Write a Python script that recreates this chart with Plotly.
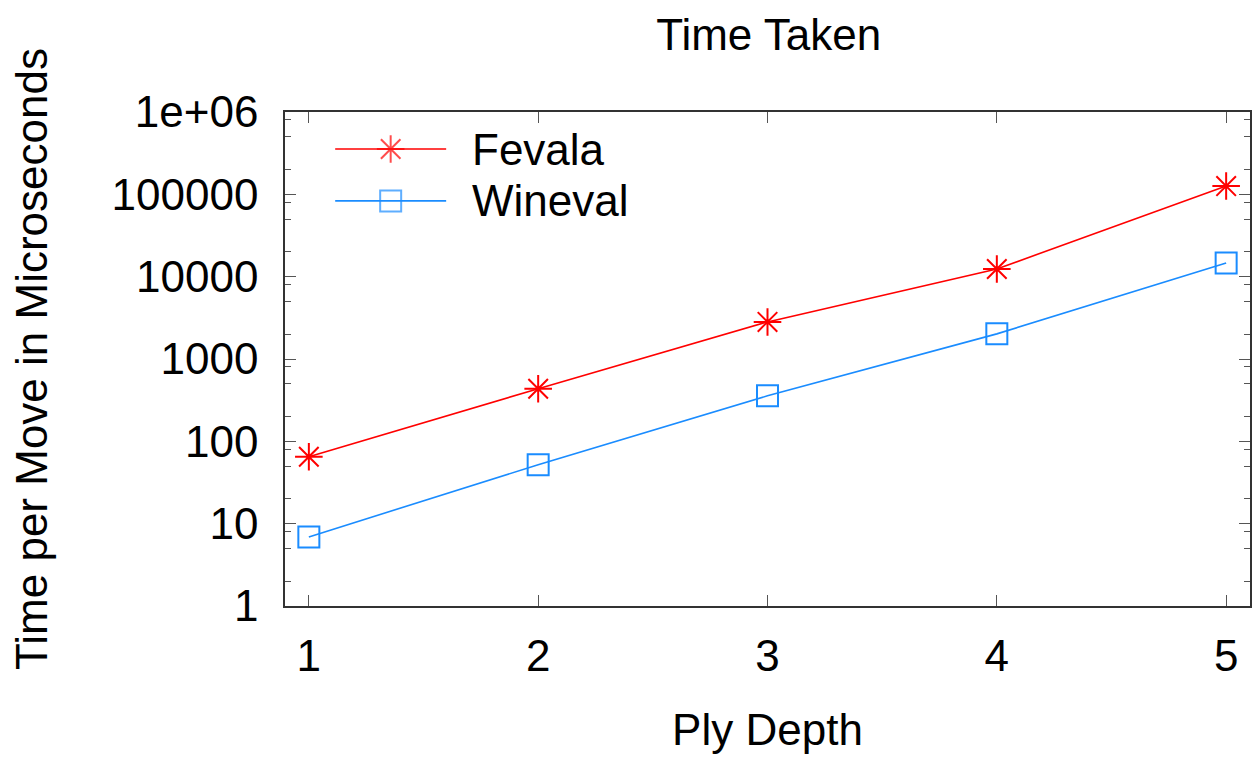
import plotly.graph_objects as go

# Search depth (plies) and average time per move, in microseconds
ply_depth = [1, 2, 3, 4, 5]
fevala_us = [65, 435, 2820, 12400, 126000]
wineval_us = [6.9, 52, 357, 2020, 14700]

y_tick_vals = [1, 10, 100, 1000, 10000, 100000, 1000000]
y_tick_text = ["1", "10", "100", "1000", "10000", "100000", "1e+06"]
y_minor_vals = [m * 10 ** d for d in range(6) for m in (2, 5, 8)]

RED = "#ff0000"
BLUE = "#1a8cff"
FONT = "Liberation Sans, Arial, Helvetica, sans-serif"
FS = 44

fig = go.Figure()

fig.add_trace(go.Scatter(
    x=ply_depth, y=fevala_us, mode="lines+markers", name="Fevala",
    line=dict(color=RED, width=1.6),
    marker=dict(symbol="asterisk-open", size=23, color=RED,
                line=dict(color=RED, width=2)),
    showlegend=False,
))
fig.add_trace(go.Scatter(
    x=ply_depth, y=wineval_us, mode="lines+markers", name="Wineval",
    line=dict(color=BLUE, width=1.6),
    marker=dict(symbol="square-open", size=21, color=BLUE,
                line=dict(color=BLUE, width=2)),
    showlegend=False,
))

# Key samples drawn on an overlay axis spanning the plot area (0..1 both ways)
key_x = [0.052, 0.1095, 0.167]
for label, color, symbol, size, yk in [
    ("Fevala", RED, "asterisk-open", 23, 0.925),
    ("Wineval", BLUE, "square-open", 21, 0.82),
]:
    fig.add_trace(go.Scatter(
        x=key_x, y=[yk] * 3, xaxis="x2", yaxis="y2", mode="lines+markers",
        line=dict(color=color, width=1.6),
        marker=dict(symbol=symbol, size=[0, size, 0], color=color,
                    line=dict(color=color, width=2)),
        showlegend=False, hoverinfo="skip",
    ))
    fig.add_annotation(
        x=0.192, y=yk, xref="x2", yref="y2", text=label, showarrow=False,
        xanchor="left", yanchor="middle",
        font=dict(family=FONT, size=FS, color="black"),
    )

axis_common = dict(
    showline=True, linecolor="#333333", linewidth=1.5, mirror="allticks",
    ticks="inside", ticklen=11, tickwidth=1.3, tickcolor="#555555",
    showgrid=False, zeroline=False,
    tickfont=dict(family=FONT, size=FS, color="black"),
    title_font=dict(family=FONT, size=FS, color="black"),
)

fig.update_layout(
    width=1258, height=758,
    margin=dict(l=285, r=6, t=112, b=152),
    paper_bgcolor="white", plot_bgcolor="white",
    title=dict(text="Time Taken", x=0.611, xanchor="center", y=0.955,
               yanchor="middle", font=dict(family=FONT, size=FS, color="black")),
    xaxis=dict(
        range=[0.896, 5.104], tickvals=ply_depth,
        ticktext=[str(v) for v in ply_depth],
        title=dict(text="Ply Depth", standoff=36),
        ticklabelstandoff=10,
        **axis_common,
    ),
    yaxis=dict(
        type="log", range=[0, 6], tickvals=y_tick_vals, ticktext=y_tick_text,
        title=dict(text="Time per Move in Microseconds", standoff=50),
        ticklabelstandoff=16,
        minor=dict(tickvals=y_minor_vals, ticks="inside", ticklen=6,
                   tickwidth=1.2, tickcolor="#555555"),
        **axis_common,
    ),
    xaxis2=dict(overlaying="x", range=[0, 1], visible=False, fixedrange=True),
    yaxis2=dict(overlaying="y", range=[0, 1], visible=False, fixedrange=True),
    showlegend=False,
)

fig.write_html("out.html")
